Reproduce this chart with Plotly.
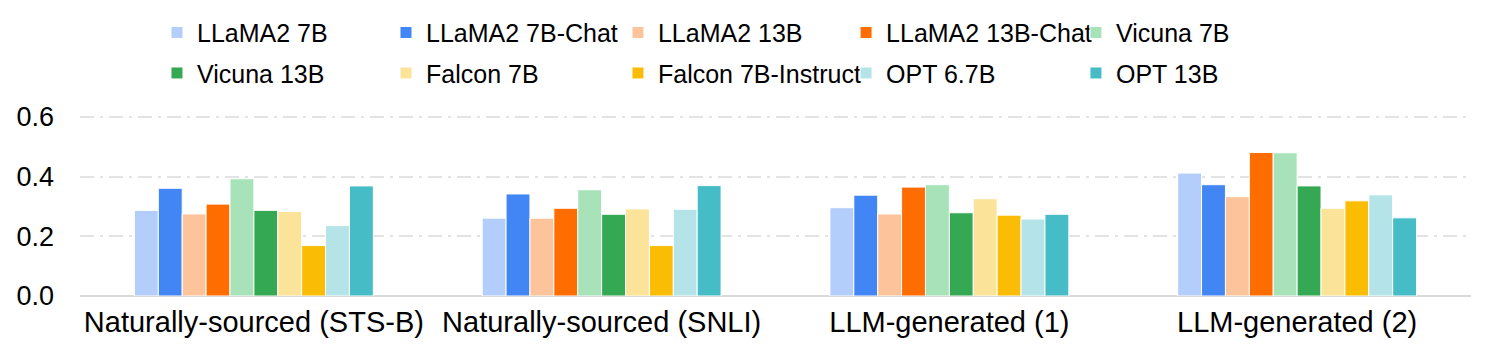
import plotly.graph_objects as go

categories = ["Naturally-sourced (STS-B)", "Naturally-sourced (SNLI)", "LLM-generated (1)", "LLM-generated (2)"]

series_names = ["LLaMA2 7B", "LLaMA2 7B-Chat", "LLaMA2 13B", "LLaMA2 13B-Chat", "Vicuna 7B",
                "Vicuna 13B", "Falcon 7B", "Falcon 7B-Instruct", "OPT 6.7B", "OPT 13B"]

llama2_7b = [0.287, 0.261, 0.296, 0.412]
llama2_7b_chat = [0.361, 0.342, 0.338, 0.373]
llama2_13b = [0.275, 0.261, 0.275, 0.333]
llama2_13b_chat = [0.308, 0.294, 0.365, 0.481]
vicuna_7b = [0.393, 0.356, 0.373, 0.480]
vicuna_13b = [0.287, 0.274, 0.279, 0.369]
falcon_7b = [0.283, 0.292, 0.326, 0.294]
falcon_7b_instruct = [0.169, 0.169, 0.271, 0.319]
opt_6_7b = [0.236, 0.291, 0.258, 0.339]
opt_13b = [0.369, 0.370, 0.274, 0.262]

series_values = [llama2_7b, llama2_7b_chat, llama2_13b, llama2_13b_chat, vicuna_7b,
                 vicuna_13b, falcon_7b, falcon_7b_instruct, opt_6_7b, opt_13b]

colors = ["#b3cefb", "#4285f4", "#fdc49b", "#ff6d01", "#a8e2b8",
          "#34a853", "#fce39a", "#fbbc04", "#b5e4e8", "#46bdc6"]

y_ticks = [0.0, 0.2, 0.4, 0.6]

FONT = "Liberation Sans, Arial, sans-serif"

legend_ids = ["legend", "legend2", "legend3", "legend4", "legend5"]

fig = go.Figure()
for i, (name, vals, col) in enumerate(zip(series_names, series_values, colors)):
    fig.add_trace(go.Bar(
        x=categories, y=vals, name=name,
        marker=dict(color=col, line=dict(color="white", width=1)),
        legend=legend_ids[i % 5],
        legendgroup=name,
    ))

# legend column positions (container coords)
col_x = [0.1002, 0.2542, 0.4102, 0.5636, 0.7182]
legend_common = dict(
    orientation="v", xanchor="left", yanchor="top",
    xref="container", yref="container", y=0.995,
    font=dict(family=FONT, size=25, color="#000000"),
    bgcolor="rgba(0,0,0,0)", borderwidth=0, traceorder="grouped",
    tracegroupgap=5,
)
layout_legends = {}
for lid, x in zip(legend_ids, col_x):
    layout_legends[lid] = dict(legend_common, x=x)

fig.update_layout(
    width=1487, height=345,
    margin=dict(l=72, r=24, t=106, b=57, autoexpand=False),
    paper_bgcolor="white", plot_bgcolor="white",
    barmode="group", bargap=0.313, bargroupgap=0.0,
    font=dict(family=FONT, color="#000000"),
    showlegend=True,
    **layout_legends,
    xaxis=dict(
        showgrid=False, showline=False, ticks="",
        tickfont=dict(family=FONT, size=29, color="#000000"),
        ticklabelstandoff=6,
    ),
    yaxis=dict(
        range=[0, 0.61], tickvals=y_ticks, tickformat=".1f",
        showgrid=True, gridcolor="#e3e3e3", gridwidth=1.5,
        griddash="14px,6px,3px,6px",
        zeroline=True, zerolinecolor="#d9d9d9", zerolinewidth=2,
        showline=False, ticks="",
        tickfont=dict(family=FONT, size=27, color="#000000"),
        ticklabelstandoff=25,
    ),
)

fig.write_html("out.html")
